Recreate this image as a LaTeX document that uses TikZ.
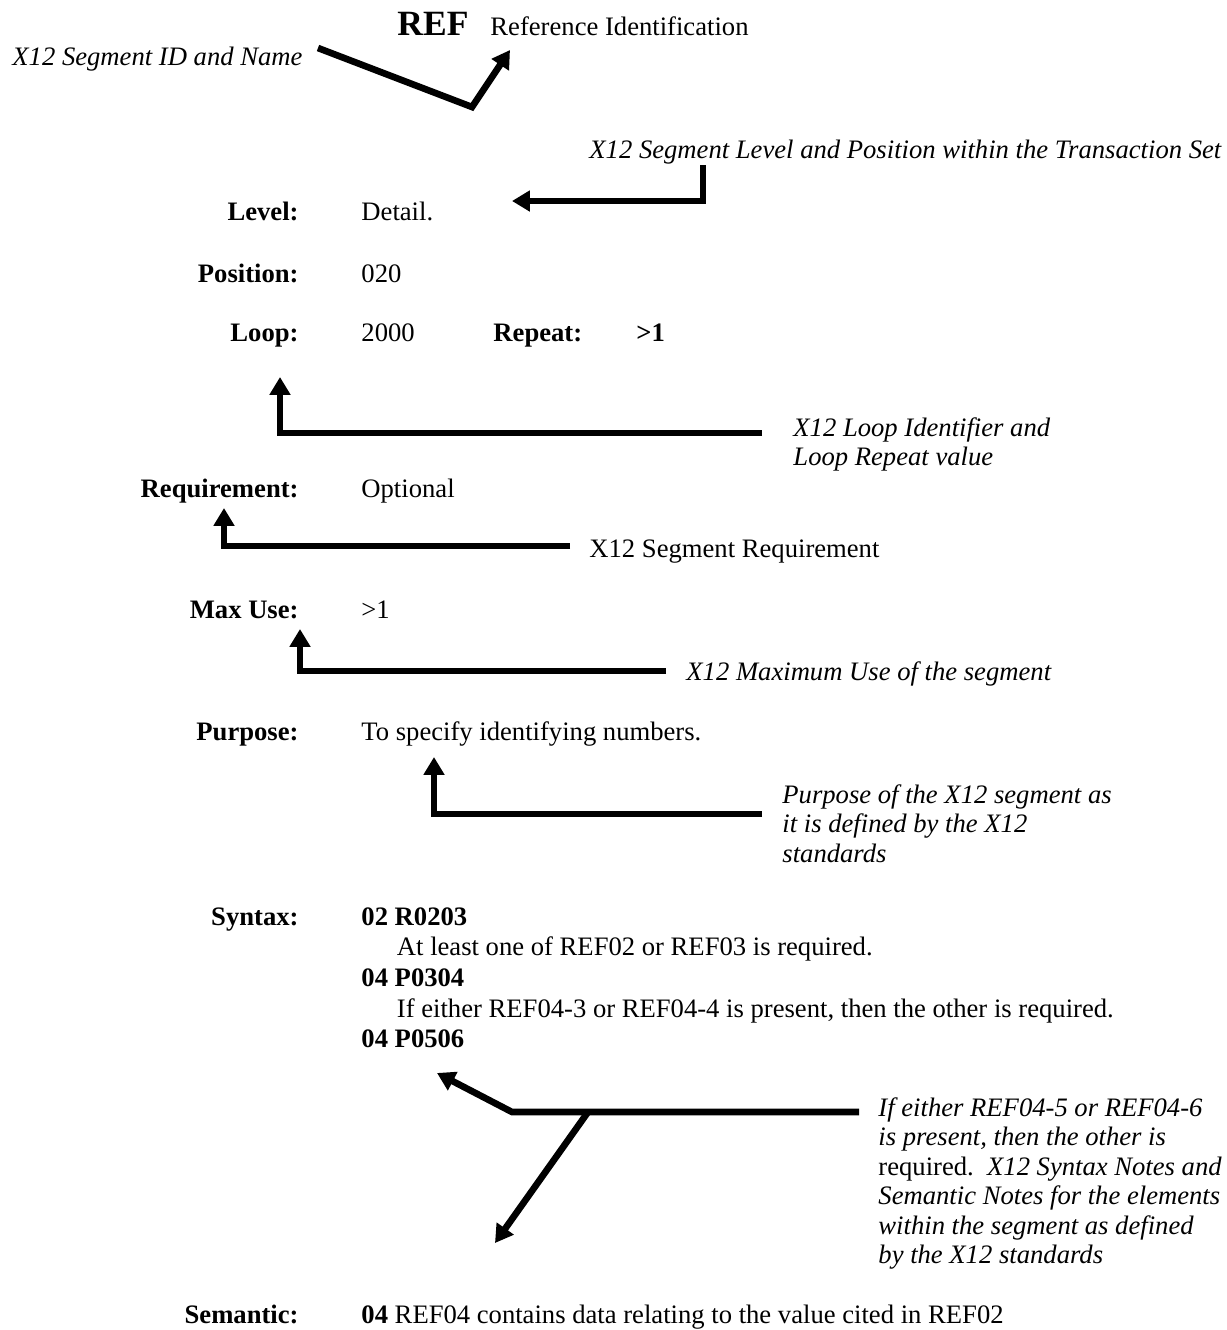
\documentclass[tikz,border=0pt]{standalone}
\usepackage{fontspec}
\setmainfont{Liberation Serif}
\usetikzlibrary{arrows.meta}

\newcommand{\segfont}{\fontsize{12}{13.8}\selectfont}

\tikzset{
  fieldname/.style = {font=\segfont\bfseries, anchor=base east, inner sep=0pt},% bold label on the left
  fieldval/.style = {font=\segfont, anchor=base west, inner sep=0pt},% value after the label
  boldval/.style = {fieldval, font=\segfont\bfseries},
  remark/.style = {font=\segfont\itshape, anchor=base west, inner sep=0pt},% one line remark
  remarkbox/.style = {font=\fontsize{12}{13.3}\selectfont\itshape, anchor=north west,
    inner sep=0pt, align=left},% remark over several lines
  pointer/.style = {line width=3pt, line join=miter, -{Triangle[length=8pt,width=9pt]}}
}

\begin{document}
\begin{tikzpicture}[x=0.4505pt, y=-0.4505pt]
  \useasboundingbox (0,0) rectangle (1227,1330);

  % segment id and name
  \node (segid) [boldval, font=\fontsize{16}{19}\selectfont\bfseries] at (397,35) {REF};
  \node (segname) [fieldval] at (490,35) {Reference Identification};
  \node (idnote) [remark] at (12,65) {X12 Segment ID and Name};
  \coordinate (idfrom) at (318,48);
  \coordinate (idbend) at (472,107);
  \coordinate (idto) at (510,50);
  \draw [pointer] (idfrom) -- (idbend) -- (idto);

  % level and position
  \node (lvlnote) [remark] at (589,158) {X12 Segment Level and Position within the Transaction Set};
  \coordinate (lvlfrom) at (703,165);
  \coordinate (lvlto) at (512,201);
  \draw [pointer] (lvlfrom) |- (lvlto);

  \node (level) [fieldname] at (299,220) {Level:};
  \node (levelval) [fieldval] at (361,220) {Detail.};
  \node (pos) [fieldname] at (299,282) {Position:};
  \node (posval) [fieldval] at (361,282) {020};
  \node (loop) [fieldname] at (299,341) {Loop:};
  \node (loopval) [fieldval] at (361,341) {2000};
  \node (rpt) [boldval] at (493,341) {Repeat:};
  \node (rptval) [boldval] at (636,341) {>1};

  % loop
  \node (loopnote) [remarkbox] at (793,417) {X12 Loop Identifier and\\Loop Repeat value};
  \coordinate (loopfrom) at (762,433);
  \coordinate (loopto) at (280,377);
  \draw [pointer] (loopfrom) -| (loopto);

  % requirement
  \node (req) [fieldname] at (299,497) {Requirement:};
  \node (reqval) [fieldval] at (361,497) {Optional};
  \node (reqnote) [fieldval] at (589,557) {X12 Segment Requirement};
  \coordinate (reqfrom) at (570,546);
  \coordinate (reqto) at (224,508);
  \draw [pointer] (reqfrom) -| (reqto);

  % max use
  \node (maxuse) [fieldname] at (299,618) {Max Use:};
  \node (maxuseval) [fieldval] at (361,618) {>1};
  \node (maxnote) [remark] at (686,680) {X12 Maximum Use of the segment};
  \coordinate (maxfrom) at (666,671);
  \coordinate (maxto) at (300,629);
  \draw [pointer] (maxfrom) -| (maxto);

  % purpose
  \node (purp) [fieldname] at (299,740) {Purpose:};
  \node (purpval) [fieldval] at (361,740) {To specify identifying numbers.};
  \node (purpnote) [remarkbox] at (782,784) {Purpose of the X12 segment as\\it is defined by the X12\\standards};
  \coordinate (purpfrom) at (762,814);
  \coordinate (purpto) at (434,757);
  \draw [pointer] (purpfrom) -| (purpto);

  % syntax notes
  \node (syn) [fieldname] at (299,925) {Syntax:};
  \node (synval) [fieldval, anchor=north west, align=left] at (361,907)
    {\textbf{02 R0203}\\\hspace*{16pt}At least one of REF02 or REF03 is required.\\
     \textbf{04 P0304}\\\hspace*{16pt}If either REF04-3 or REF04-4 is present, then the other is required.\\
     \textbf{04 P0506}};
  \node (synnote) [remarkbox] at (878,1097) {If either REF04-5 or REF04-6\\is present, then the other is\\
    \textup{required.}\ \ X12 Syntax Notes and\\Semantic Notes for the elements\\
    within the segment as defined\\by the X12 standards};
  \coordinate (synfrom) at (859,1112);
  \coordinate (synbend) at (512,1112);
  \coordinate (synup) at (437,1073);
  \coordinate (synfork) at (588,1112);
  \coordinate (syndown) at (495,1243);
  \draw [pointer] (synfrom) -- (synbend) -- (synup);
  \draw [pointer] (synfork) -- (syndown);

  % semantic notes
  \node (sem) [fieldname] at (299,1323) {Semantic:};
  \node (semval) [fieldval] at (361,1323) {\textbf{04} REF04 contains data relating to the value cited in REF02};
\end{tikzpicture}
\end{document}
